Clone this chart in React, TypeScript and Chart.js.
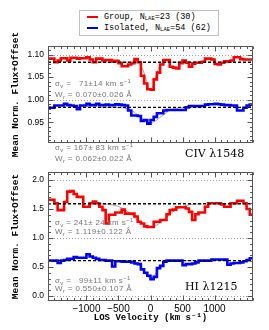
import React, { useEffect, useRef } from "react";
import { Chart, registerables } from "chart.js";
Chart.register(...registerables);

// ---------- data ----------
const V_MIN = -1600;
const V_MAX = 1600;
const BIN_WIDTH = 50;
const X_TICKS = [-1000, -500, 0, 500, 1000];
const X_MINOR_STEP = 100;

// CIV 1548 stacked spectra (bins of 50 km/s starting at -1600)
const CIV_GROUP = [1.091,1.091,1.083,1.087,1.092,1.092,1.087,1.093,1.093,1.091,
  1.092,1.092,1.094,1.089,1.083,1.091,1.091,1.087,1.088,1.088,
  1.085,1.086,1.081,1.074,1.074,1.078,1.081,1.090,1.083,1.053,
  1.036,1.023,1.022,1.045,1.060,1.078,1.088,1.088,1.073,1.071,
  1.069,1.081,1.087,1.082,1.073,1.080,1.082,1.082,1.084,1.091,
  1.091,1.089,1.079,1.078,1.082,1.085,1.085,1.087,1.094,1.094,
  1.090,1.089,1.089,1.089];
const CIV_ISOLATED = [0.982,0.982,0.987,0.987,0.987,0.991,0.988,0.987,0.986,0.979,
  0.987,0.987,0.991,0.988,0.988,0.991,0.988,0.988,0.989,0.988,
  0.988,0.990,0.989,0.988,0.987,0.976,0.965,0.965,0.964,0.953,
  0.955,0.947,0.955,0.962,0.970,0.970,0.976,0.977,0.977,0.977,
  0.977,0.977,0.977,0.983,0.986,0.986,0.986,0.986,0.986,0.989,
  0.990,0.990,0.991,0.990,0.989,0.988,0.988,0.987,0.987,0.976,
  0.976,0.982,0.987,0.989];
// HI 1215 stacked spectra
const HI_GROUP = [1.66,1.66,1.60,1.48,1.48,1.62,1.80,1.81,1.76,1.71,
  1.71,1.54,1.54,1.60,1.63,1.60,1.54,1.48,1.25,1.40,
  1.40,1.44,1.44,1.49,1.42,1.42,1.42,1.37,1.28,1.25,
  1.20,1.19,1.19,1.28,1.28,1.31,1.31,1.41,1.48,1.49,
  1.53,1.53,1.53,1.51,1.45,1.31,1.41,1.44,1.44,1.54,
  1.60,1.60,1.60,1.60,1.58,1.54,1.54,1.60,1.60,1.64,
  1.64,1.60,1.50,1.40];
const HI_ISOLATED = [0.61,0.61,0.61,0.57,0.61,0.62,0.64,0.64,0.67,0.66,
  0.66,0.66,0.72,0.68,0.66,0.64,0.62,0.62,0.61,0.61,
  0.51,0.60,0.60,0.59,0.59,0.59,0.58,0.56,0.55,0.46,
  0.40,0.35,0.29,0.33,0.48,0.52,0.59,0.61,0.61,0.61,
  0.61,0.61,0.53,0.55,0.55,0.56,0.58,0.61,0.61,0.61,
  0.61,0.63,0.63,0.63,0.63,0.63,0.54,0.56,0.57,0.57,
  0.58,0.60,0.62,0.65];

// continuum levels (dashed)
const CIV_GROUP_CONT = 1.083;
const CIV_ISOLATED_CONT = 0.983;
const HI_GROUP_CONT = 1.59;
const HI_ISOLATED_CONT = 0.61;

// fitted profiles (gray), read at these velocities
const FIT_V = [-800,-700,-600,-500,-400,-300,-250,-200,-150,-100,-50,0,50,100,150,200,250,300,400,500,600,700,800];
const CIV_GROUP_FIT = [1.083,1.083,1.083,1.083,1.083,1.083,1.083,1.082,1.076,1.059,1.035,1.021,1.035,1.059,1.076,1.082,1.083,1.083,1.083,1.083,1.083,1.083,1.083];
const CIV_ISOLATED_FIT = [0.983,0.983,0.983,0.9826,0.981,0.976,0.972,0.966,0.961,0.955,0.951,0.949,0.951,0.955,0.961,0.966,0.972,0.976,0.981,0.9826,0.983,0.983,0.983];
const HI_GROUP_FIT = [1.588,1.584,1.572,1.544,1.489,1.406,1.355,1.306,1.260,1.223,1.198,1.19,1.198,1.223,1.260,1.306,1.355,1.406,1.489,1.544,1.572,1.584,1.588];
const HI_ISOLATED_FIT = [0.61,0.61,0.61,0.61,0.61,0.607,0.597,0.57,0.512,0.424,0.337,0.30,0.337,0.424,0.512,0.57,0.597,0.607,0.61,0.61,0.61,0.61,0.61];

const CIV_TICKS = [0.95, 1.0, 1.05, 1.1];
const HI_TICKS = [0, 0.5, 1, 1.5, 2];
const CIV_REF = [1.0, 1.1];
const HI_REF = [0, 1, 2];

const LEGEND_LABELS = ["Group", "Isolated"];
const LEGEND_N = [23, 54];
const LEGEND_TOTAL = [30, 62];
const LEGEND_COLORS = ["#ff0000", "#0000ff"];

const SIGMA_V = ["  71±14", "167± 83", "241± 24", "  99±11"];
const W_R = ["0.070±0.026", "0.062±0.022", "1.119±0.122", "0.550±0.107"];

// ---------- helpers ----------
const RED = "#ff0000";
const BLUE = "#0000ff";
const GRAY = "#8c8c8c";

function stepPoints(vals: number[]) {
  const pts = vals.map((y, i) => ({ x: V_MIN + i * BIN_WIDTH, y }));
  pts.push({ x: V_MIN + vals.length * BIN_WIDTH, y: vals[vals.length - 1] });
  return pts;
}
function fitPoints(vals: number[]) {
  return FIT_V.map((x, i) => ({ x, y: vals[i] }));
}
function flat(y: number) {
  return [{ x: V_MIN, y }, { x: V_MAX, y }];
}

type Panel = {
  group: number[]; iso: number[]; groupFit: number[]; isoFit: number[];
  groupCont: number; isoCont: number; min: number; max: number;
  ticks: number[]; minor: number; refs: number[]; decimals: number; showX: boolean;
  padTop: number; padBottom: number;
};

function decor(p: Panel) {
  return {
    id: "decor",
    beforeDatasetsDraw(chart: any) {
      const { ctx, chartArea: a, scales } = chart;
      const y = scales.y;
      ctx.save();
      ctx.strokeStyle = "#a0a0a0";
      ctx.lineWidth = 1;
      ctx.setLineDash([1, 2]);
      p.refs.forEach((v) => {
        const py = Math.round(y.getPixelForValue(v)) + 0.5;
        ctx.beginPath();
        ctx.moveTo(a.left, py);
        ctx.lineTo(a.right, py);
        ctx.stroke();
      });
      ctx.restore();
    },
    afterDraw(chart: any) {
      const { ctx, chartArea: a, scales } = chart;
      const x = scales.x;
      const y = scales.y;
      ctx.save();
      ctx.strokeStyle = "#555";
      ctx.lineWidth = 1;
      const L = Math.round(a.left) + 0.5, R = Math.round(a.right) - 0.5;
      const T = Math.round(a.top) + 0.5, B = Math.round(a.bottom) - 0.5;
      ctx.strokeRect(L, T, R - L, B - T);
      ctx.beginPath();
      for (let v = V_MIN; v <= V_MAX; v += X_MINOR_STEP) {
        const px = Math.round(x.getPixelForValue(v)) + 0.5;
        const len = X_TICKS.includes(v) ? 5 : 2.5;
        ctx.moveTo(px, T); ctx.lineTo(px, T + len);
        ctx.moveTo(px, B); ctx.lineTo(px, B - len);
      }
      const k0 = Math.ceil(p.min / p.minor - 1e-6), k1 = Math.floor(p.max / p.minor + 1e-6);
      for (let k = k0; k <= k1; k++) {
        const v = k * p.minor;
        const py = Math.round(y.getPixelForValue(v)) + 0.5;
        const major = p.ticks.some((t) => Math.abs(t - v) < 1e-6);
        const len = major ? 5 : 2.5;
        ctx.moveTo(L, py); ctx.lineTo(L + len, py);
        ctx.moveTo(R, py); ctx.lineTo(R - len, py);
      }
      ctx.stroke();
      ctx.restore();
    },
  };
}

function makeConfig(p: Panel): any {
  const lineDs = (data: any, color: string) => ({
    data, borderColor: color, borderWidth: 2.6, stepped: "before", pointRadius: 0, fill: false,
    borderJoinStyle: "miter",
  });
  const fitDs = (data: any) => ({
    data, borderColor: GRAY, borderWidth: 0.8, pointRadius: 0, fill: false, cubicInterpolationMode: "monotone",
  });
  const contDs = (data: any) => ({
    data, borderColor: "#000", borderWidth: 1.4, borderDash: [3, 2], pointRadius: 0, fill: false,
  });
  return {
    type: "line",
    data: {
      datasets: [
        contDs(flat(p.groupCont)),
        contDs(flat(p.isoCont)),
        lineDs(stepPoints(p.group), RED),
        lineDs(stepPoints(p.iso), BLUE),
        fitDs(fitPoints(p.groupFit)),
        fitDs(fitPoints(p.isoFit)),
      ],
    },
    options: {
      animation: false,
      responsive: false,
      events: [],
      layout: { padding: { left: 0, right: 16, top: p.padTop, bottom: p.padBottom } },
      plugins: { legend: { display: false }, tooltip: { enabled: false } },
      scales: {
        x: {
          type: "linear", min: V_MIN, max: V_MAX, display: p.showX,
          afterBuildTicks: (s: any) => { s.ticks = X_TICKS.map((v) => ({ value: v })); },
          afterFit: (s: any) => { s.height = 29; s.paddingLeft = 0; s.paddingRight = 0; },
          grid: { display: false, drawTicks: false },
          border: { display: false },
          ticks: {
            color: "#000", padding: 2, maxRotation: 0, autoSkip: false,
            font: { family: "'Liberation Sans', Arial, sans-serif", size: 10 },
            callback: (v: number) => (v < 0 ? "\u2212" + Math.abs(v) : String(v)),
          },
          title: {
            display: true, text: "LOS Velocity (km s\u207B\u00B9)", color: "#000",
            font: { family: "'Liberation Mono', monospace", size: 9, weight: "bold" },
            padding: { top: 0, bottom: 6.5 },
          },
        },
        y: {
          type: "linear", min: p.min, max: p.max,
          afterBuildTicks: (s: any) => { s.ticks = p.ticks.map((v) => ({ value: v })); },
          afterFit: (s: any) => { s.width = 48; s.paddingTop = 0; s.paddingBottom = 0; },
          grid: { display: false, drawTicks: false },
          border: { display: false },
          ticks: {
            color: "#000", padding: 4,
            font: { family: "'Liberation Sans', Arial, sans-serif", size: 8.5 },
            callback: (v: number) => v.toFixed(p.decimals),
          },
          title: {
            display: true, text: "Mean Norm. Flux+Offset", color: "#000",
            font: { family: "'Liberation Mono', monospace", size: 9.5, weight: "bold" },
            padding: { top: 10, bottom: 0 },
          },
        },
      },
    },
  };
}

const TOP: Panel = {
  group: CIV_GROUP, iso: CIV_ISOLATED, groupFit: CIV_GROUP_FIT, isoFit: CIV_ISOLATED_FIT,
  groupCont: CIV_GROUP_CONT, isoCont: CIV_ISOLATED_CONT, min: 0.904, max: 1.119,
  ticks: CIV_TICKS, minor: 0.01, refs: CIV_REF, decimals: 2, showX: false, padTop: 46, padBottom: 1,
};
const BOTTOM: Panel = {
  group: HI_GROUP, iso: HI_ISOLATED, groupFit: HI_GROUP_FIT, isoFit: HI_ISOLATED_FIT,
  groupCont: HI_GROUP_CONT, isoCont: HI_ISOLATED_CONT, min: -0.086, max: 2.138,
  ticks: HI_TICKS, minor: 0.1, refs: HI_REF, decimals: 1, showX: true, padTop: 0, padBottom: 0,
};

function PanelChart({ panel, top, height }: { panel: Panel; top: number; height: number }) {
  const ref = useRef<HTMLCanvasElement>(null);
  useEffect(() => {
    const cfg = makeConfig(panel);
    cfg.plugins = [decor(panel)];
    const chart = new Chart(ref.current as HTMLCanvasElement, cfg);
    return () => chart.destroy();
  }, [panel]);
  return (
    <canvas ref={ref} width={269} height={height}
      style={{ position: "absolute", left: 0, top, width: 269, height }} />
  );
}

const annFont: React.CSSProperties = {
  position: "absolute", whiteSpace: "pre", lineHeight: 1, color: "#777",
  fontFamily: "'Liberation Sans', Arial, sans-serif", fontSize: 8, letterSpacing: 0.35,
  transform: "translateY(-50%)",
};
const subStyle: React.CSSProperties = { fontSize: "0.75em", verticalAlign: "-0.3em", lineHeight: 0 };
const supStyle: React.CSSProperties = { fontSize: "0.75em", verticalAlign: "0.45em", lineHeight: 0 };

function Stats({ i, y1, y2 }: { i: number; y1: number; y2: number }) {
  return (
    <>
      <div style={{ ...annFont, left: 55, top: y1 }}>
        σ<span style={subStyle}>v</span>{" = " + SIGMA_V[i] + " km s"}<span style={supStyle}>−1</span>
      </div>
      <div style={{ ...annFont, left: 55, top: y2 }}>
        W<span style={subStyle}>r</span>{" = " + W_R[i] + " Å"}
      </div>
    </>
  );
}

export default function App() {
  const legFont: React.CSSProperties = {
    fontFamily: "'Liberation Mono', monospace", fontSize: 8.5, color: "#000", whiteSpace: "pre", lineHeight: 1,
  };
  return (
    <div style={{ position: "fixed", left: 0, top: 0, width: 269, height: 330, background: "#fff", overflow: "hidden" }}>
      <PanelChart panel={TOP} top={0} height={173} />
      <PanelChart panel={BOTTOM} top={172} height={158} />
      <div style={{ position: "absolute", left: 79, top: 10, width: 140, height: 26, border: "1px solid #c0c0c0", boxSizing: "border-box", background: "#fff" }}>
        {LEGEND_LABELS.map((lab, i) => (
          <React.Fragment key={lab}>
            <div style={{ position: "absolute", left: 7, top: 5 + i * 11, width: 11, height: 2, background: LEGEND_COLORS[i] }} />
            <div style={{ ...legFont, position: "absolute", left: 24, top: 6 + i * 11, transform: "translateY(-50%)" }}>
              {lab + ", N"}<span style={{ fontSize: "0.65em", verticalAlign: "-0.3em", lineHeight: 0 }}>LAE</span>{"=" + LEGEND_N[i] + " (" + LEGEND_TOTAL[i] + ")"}
            </div>
          </React.Fragment>
        ))}
      </div>
      <Stats i={0} y1={84} y2={95} />
      <Stats i={1} y1={148} y2={159} />
      <Stats i={2} y1={223} y2={232} />
      <Stats i={3} y1={281} y2={289} />
      <div style={{ position: "absolute", left: 185, top: 153, transform: "translateY(-50%)", fontFamily: "'DejaVu Serif', serif", fontSize: 11, lineHeight: 1, color: "#000", whiteSpace: "pre" }}>
        CIV λ1548
      </div>
      <div style={{ position: "absolute", left: 185, top: 286, transform: "translateY(-50%)", fontFamily: "'DejaVu Serif', serif", fontSize: 11, lineHeight: 1, color: "#000", whiteSpace: "pre" }}>
        HI λ1215
      </div>
    </div>
  );
}
